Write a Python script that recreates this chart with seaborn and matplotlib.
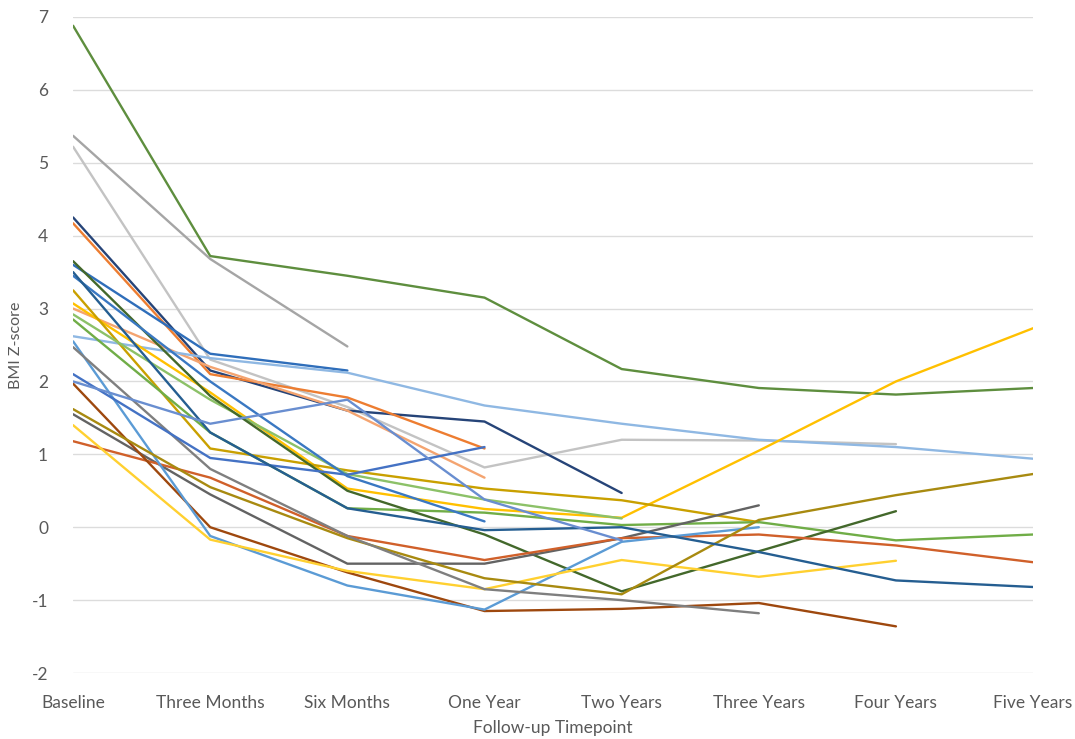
import numpy as np
import pandas as pd
import matplotlib
matplotlib.use("Agg")
import matplotlib.pyplot as plt
import seaborn as sns

nan = np.nan
timepoints = ["Baseline", "Three Months", "Six Months", "One Year",
              "Two Years", "Three Years", "Four Years", "Five Years"]

# BMI z-scores per participant (NaN = no follow-up at that timepoint)
p01 = [6.88, 3.72, 3.45, 3.15, 2.17, 1.91, 1.82, 1.91]
p02 = [5.37, 3.68, 2.48, nan, nan, nan, nan, nan]
p03 = [5.22, 2.30, 1.65, 0.82, 1.20, 1.19, 1.14, nan]
p04 = [4.25, 2.15, 1.60, 1.45, 0.47, nan, nan, nan]
p05 = [4.17, 2.10, 1.78, 1.08, nan, nan, nan, nan]
p06 = [3.00, 2.20, 1.60, 0.68, nan, nan, nan, nan]
p07 = [3.60, 2.38, 2.15, nan, nan, nan, nan, nan]
p08 = [2.62, 2.32, 2.12, 1.67, 1.42, 1.20, 1.10, 0.94]
p09 = [3.07, 1.85, 0.53, 0.25, 0.13, 1.05, 2.00, 2.73]
p10 = [3.25, 1.08, 0.78, 0.53, 0.37, 0.07, nan, nan]
p11 = [2.92, 1.75, 0.73, 0.38, 0.12, nan, nan, nan]
p12 = [2.85, 1.30, 0.26, 0.20, 0.03, 0.07, -0.18, -0.10]
p13 = [3.65, 1.80, 0.50, -0.10, -0.88, -0.33, 0.22, nan]
p14 = [1.55, 0.45, -0.50, -0.50, -0.15, 0.30, nan, nan]
p15 = [1.18, 0.68, -0.12, -0.45, -0.15, -0.10, -0.25, -0.48]
p16 = [1.97, 0.00, -0.62, -1.15, -1.12, -1.04, -1.36, nan]
p17 = [2.55, -0.12, -0.80, -1.13, -0.20, 0.00, nan, nan]
p18 = [1.40, -0.17, -0.60, -0.85, -0.45, -0.68, -0.46, nan]
p19 = [1.62, 0.55, -0.15, -0.70, -0.92, 0.10, 0.44, 0.73]
p20 = [2.47, 0.80, -0.12, -0.85, -1.00, -1.18, nan, nan]
p21 = [2.10, 0.95, 0.72, 1.10, nan, nan, nan, nan]
p22 = [3.45, 2.00, 0.70, 0.08, nan, nan, nan, nan]
p23 = [3.50, 1.30, 0.26, -0.04, 0.00, -0.34, -0.73, -0.82]
p24 = [2.00, 1.42, 1.75, 0.38, -0.18, nan, nan, nan]

participants = [p01, p02, p03, p04, p05, p06, p07, p08, p09, p10, p11, p12,
                p13, p14, p15, p16, p17, p18, p19, p20, p21, p22, p23, p24]
colors = ["#5E8E3E", "#A5A5A5", "#C3C3C3", "#264478", "#ED7D31", "#F4A470",
          "#2F6EBA", "#8FB8E3", "#FFC000", "#C9A000", "#8CC168", "#70AD47",
          "#43682B", "#636363", "#D0602A", "#9E480E", "#5B9BD5", "#FFD030",
          "#A88A10", "#7F7F7F", "#4472C4", "#3A78C2", "#255E91", "#698ED0"]

rows = []
for i, vals in enumerate(participants):
    for j, v in enumerate(vals):
        if not np.isnan(v):
            rows.append({"pid": f"P{i+1:02d}", "t": j, "z": v})
df = pd.DataFrame(rows)

sns.set_theme(style="white")
plt.rcParams["font.family"] = ["Lato", "DejaVu Sans"]
plt.rcParams["axes.unicode_minus"] = False

fig = plt.figure(figsize=(10.75, 7.39), dpi=100)
ax = fig.add_axes([0.068, 0.0893, 0.893, 0.8877])

sns.lineplot(data=df, x="t", y="z", hue="pid",
             palette=colors, estimator=None, sort=False,
             linewidth=1.7, legend=False, ax=ax)

ax.set_xlim(0, 7)
ax.set_ylim(-2, 7)
ax.set_yticks(range(-2, 8))
ax.set_xticks(range(len(timepoints)))
ax.set_xticklabels(timepoints)
ax.yaxis.grid(True, color="#DCDCDC", linewidth=1.0)
ax.xaxis.grid(False)
ax.set_axisbelow(True)
for s in ax.spines.values():
    s.set_visible(False)
ax.tick_params(axis="both", length=0, labelsize=12.5, labelcolor="#595959")
ax.tick_params(axis="x", pad=16)
ax.tick_params(axis="y", pad=18)
ax.set_xlabel("Follow-up Timepoint", fontsize=12.5, color="#595959", labelpad=6)
ax.set_ylabel("BMI Z-score", fontsize=11.5, color="#595959", labelpad=6)

fig.savefig("out.png", dpi=100)
